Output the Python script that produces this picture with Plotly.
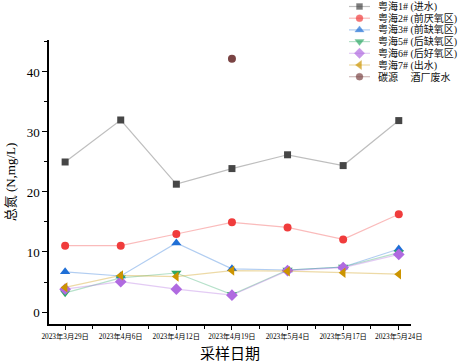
import plotly.graph_objects as go

dates = ["2023年3月29日", "2023年4月6日", "2023年4月12日", "2023年4月19日",
         "2023年5月4日", "2023年5月17日", "2023年5月24日"]
s1 = [25.0, 32.0, 21.3, 23.9, 26.2, 24.4, 31.9]
s2 = [11.05, 11.05, 13.0, 14.95, 14.1, 12.1, 16.3]
s3 = [6.7, 6.0, 11.5, 7.2, 7.0, 7.5, 10.5]
s5 = [3.2, 5.7, 6.5, 2.9, 7.0, 7.5, 9.9]
s6 = [3.8, 5.05, 3.8, 2.8, 6.9, 7.4, 9.6]
s7 = [4.1, 6.1, 5.9, 6.9, 6.8, 6.55, 6.3]
carbon_x = [3]
carbon_y = [42.2]

names = ["粤海1# (进水)", "粤海2# (前厌氧区)", "粤海3# (前缺氧区)",
         "粤海5# (后缺氧区)", "粤海6# (后好氧区)", "粤海7# (出水)", "碳源　 酒厂废水"]

FONT = "Liberation Serif, Times New Roman, Noto Sans CJK SC"
W, H = 462, 362
x = list(range(len(dates)))

styles = [
    (s1, "#464646", "rgba(70,70,70,0.35)", "square", 7),
    (s2, "#f03c3c", "rgba(240,60,60,0.35)", "circle", 8),
    (s3, "#1f6fd6", "rgba(31,111,214,0.35)", "triangle-up", 9),
    (s5, "#2ea866", "rgba(46,168,102,0.35)", "triangle-down", 9),
    (s6, "#b06ae0", "rgba(176,106,224,0.35)", "diamond", 9),
    (s7, "#cc9400", "rgba(204,148,0,0.35)", "triangle-left", 9),
    (None, "#7a4444", "rgba(120,60,60,0.35)", "circle", 8),
]

fig = go.Figure()
for (vals, mc, lc, sym, sz), nm in zip(styles, names):
    if vals is None:
        xs, ys = carbon_x, carbon_y
    else:
        xs, ys = x, vals
    fig.add_trace(go.Scatter(x=xs, y=ys, mode="lines+markers", name=nm, showlegend=False,
                             line=dict(color=lc, width=1.2),
                             marker=dict(color=mc, symbol=sym, size=sz)))

# manual compact legend (pixel-space overlay axes)
leg_x0, leg_x1, leg_txt = 349, 370, 376
row0, row_gap = 6.5, 11.7
annotations = []
for i, ((vals, mc, lc, sym, sz), nm) in enumerate(zip(styles, names)):
    ry = row0 + i * row_gap
    fig.add_trace(go.Scatter(x=[leg_x0, (leg_x0 + leg_x1) / 2, leg_x1], y=[ry, ry, ry],
                             xaxis="x2", yaxis="y2", mode="lines+markers", showlegend=False,
                             hoverinfo="skip",
                             line=dict(color=lc, width=1.2),
                             marker=dict(color=mc, symbol=sym, size=[0, sz - 1, 0])))
    annotations.append(dict(x=leg_txt / W, y=1 - ry / H, xref="paper", yref="paper",
                            text=nm, showarrow=False, xanchor="left", yanchor="middle",
                            font=dict(size=10, family=FONT, color="#111")))

fig.update_layout(
    width=W, height=H,
    margin=dict(l=0, r=0, t=0, b=0, autoexpand=False),
    paper_bgcolor="white", plot_bgcolor="rgba(0,0,0,0)",
    font=dict(family=FONT, color="black"),
    showlegend=False,
    annotations=annotations,
    xaxis=dict(domain=[49 / W, 411 / W], range=[-0.29, 6.22], automargin=False,
               tickmode="array", tickvals=x, ticktext=dates, tickangle=0,
               tickfont=dict(size=7.3, family=FONT), showgrid=False, zeroline=False,
               showline=True, linecolor="black", linewidth=1.5,
               ticks="outside", ticklen=4, tickwidth=1.2, tickcolor="black",
               minor=dict(tickmode="array", tickvals=[i + 0.5 for i in range(6)],
                          ticks="outside", ticklen=3, tickcolor="black", showgrid=False),
               title=dict(text="采样日期", font=dict(size=15, family=FONT), standoff=9)),
    yaxis=dict(domain=[1 - 324 / H, 1 - 40 / H], range=[-2, 45.33], automargin=False,
               tickvals=[0, 10, 20, 30, 40],
               tickfont=dict(size=13, family=FONT), showgrid=False, zeroline=False,
               showline=True, linecolor="black", linewidth=1.5,
               ticks="outside", ticklen=5, tickwidth=1.2, tickcolor="black",
               minor=dict(tickvals=[5, 15, 25, 35, 45], ticks="outside", ticklen=3,
                          tickcolor="black", showgrid=False),
               title=dict(text="总氮 (N,mg/L)", font=dict(size=13, family=FONT), standoff=8)),
    xaxis2=dict(domain=[0, 1], range=[0, W], visible=False, fixedrange=True, anchor="y2"),
    yaxis2=dict(domain=[0, 1], range=[H, 0], visible=False, fixedrange=True, anchor="x2"),
)

fig.write_html("out.html", config={"displayModeBar": False},
               post_script="document.body.style.margin='0px';document.body.style.overflow='hidden';")
